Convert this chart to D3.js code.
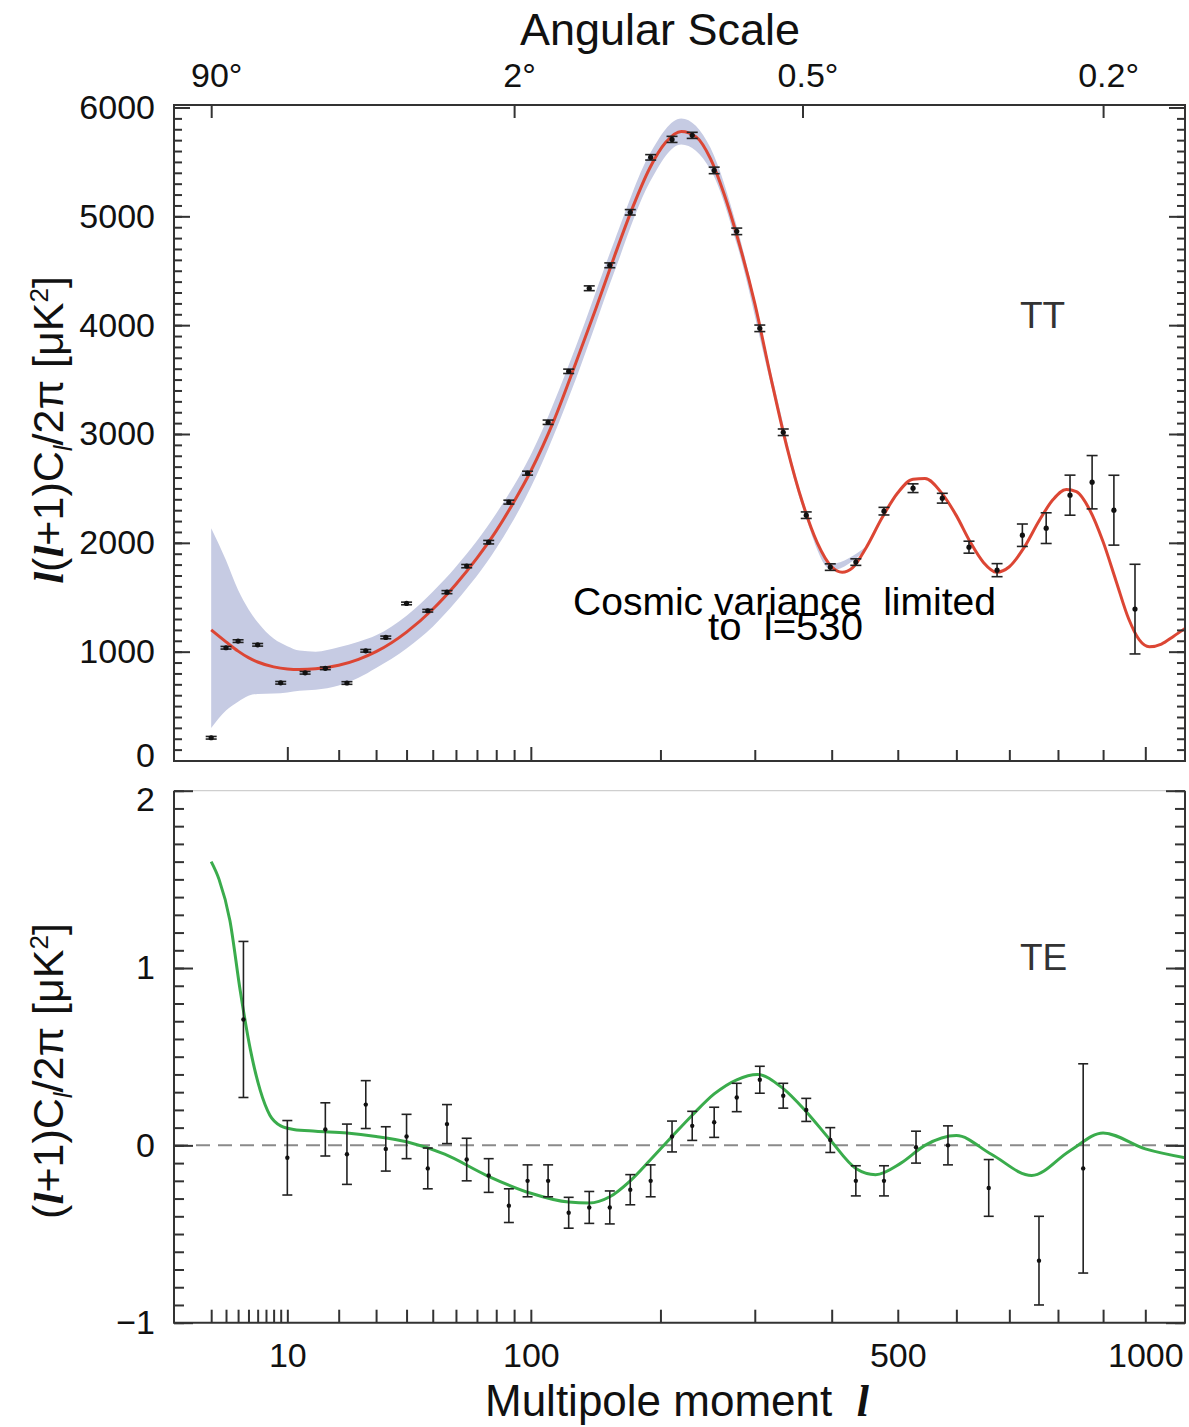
<!DOCTYPE html>
<html>
<head>
<meta charset="utf-8">
<script src="https://cdn.jsdelivr.net/npm/d3@7"></script>
<style>
  body { margin: 0; background: #fff; }
  svg { display: block; }
  text { font-family: "Liberation Sans", Arial, Helvetica, sans-serif; }
</style>
</head>
<body>
<svg id="chart" width="1189" height="1427"></svg>
<script>
// ---- data ----
// TT binned data: multipole, value (uK^2), half error
var ttL   = [2, 3, 4, 6, 9, 13, 17, 22, 27, 33, 40, 48, 56, 65, 76, 87, 98, 111, 125, 140, 156, 173, 191, 211, 231, 254, 279, 306, 335, 365, 398, 435, 478, 525, 575, 623, 676, 726, 775, 826, 875, 925, 975];
var ttVal = [209, 1036, 1097, 1063, 714, 806, 847, 712, 1008, 1131, 1443, 1376, 1547, 1786, 2006, 2374, 2640, 3108, 3576, 4339, 4550, 5037, 5542, 5707, 5744, 5422, 4862, 3971, 3016, 2254, 1777, 1823, 2291, 2502, 2410, 1960, 1749, 2070, 2135, 2438, 2557, 2300, 1391];
var ttErr = [12, 12, 12, 12, 12, 12, 12, 12, 12, 12, 12, 12, 14, 15, 16, 18, 18, 20, 20, 22, 22, 25, 25, 28, 28, 30, 30, 30, 30, 30, 30, 30, 35, 40, 45, 55, 60, 103, 141, 184, 245, 321, 412];

// TT best-fit model (red line)
var ttModelL   = [2, 3, 4, 5, 6, 8, 10, 12, 15, 20, 25, 30, 40, 50, 60, 70, 80, 90, 100, 115, 130, 145, 160, 175, 190, 205, 220, 235, 250, 265, 280, 300, 320, 340, 360, 380, 400, 415, 430, 450, 475, 500, 525, 545, 575, 600, 625, 650, 675, 700, 730, 760, 790, 818, 840, 870, 900, 930, 960, 985, 1010, 1040, 1070, 1100];
var ttModelVal = [1200, 1090, 1005, 945, 905, 860, 840, 835, 842, 875, 930, 1000, 1180, 1390, 1620, 1860, 2110, 2380, 2660, 3130, 3650, 4150, 4640, 5080, 5440, 5680, 5780, 5730, 5530, 5200, 4800, 4200, 3500, 2870, 2370, 2000, 1780, 1730, 1770, 1950, 2230, 2460, 2585, 2590, 2450, 2250, 2010, 1820, 1730, 1780, 1960, 2200, 2400, 2490, 2470, 2300, 2010, 1650, 1300, 1110, 1045, 1070, 1140, 1214];

// cosmic variance band
var bandL  = [2, 3, 4, 5, 6, 8, 10, 12, 15, 20, 25, 30, 40, 50, 60, 80, 100, 130, 160, 190, 220, 250, 280, 320, 360, 400, 450];
var bandLo = [298, 460, 540, 595, 611, 615, 625, 640, 650, 690, 760, 850, 1030, 1230, 1460, 1950, 2510, 3500, 4500, 5310, 5660, 5430, 4720, 3440, 2330, 1750, 1935];
var bandHi = [2135, 1840, 1566, 1390, 1270, 1120, 1050, 1010, 1000, 1040, 1090, 1150, 1330, 1550, 1780, 2270, 2810, 3800, 4780, 5570, 5900, 5630, 4880, 3560, 2410, 1810, 1965];

// TE binned data
var teL   = [4.5, 10, 17, 22, 27, 33, 40, 48, 56, 65, 76, 87, 98, 111, 125, 140, 156, 173, 191, 211, 231, 254, 279, 306, 335, 365, 398, 435, 478, 530, 585, 660, 760, 855];
var teVal = [0.71, -0.07, 0.09, -0.05, 0.23, -0.02, 0.05, -0.13, 0.12, -0.08, -0.17, -0.34, -0.2, -0.2, -0.38, -0.35, -0.35, -0.25, -0.2, 0.05, 0.11, 0.13, 0.27, 0.37, 0.28, 0.2, 0.03, -0.2, -0.2, -0.01, 0.0, -0.24, -0.65, -0.13];
var teErr = [0.44, 0.21, 0.15, 0.17, 0.135, 0.125, 0.125, 0.115, 0.11, 0.12, 0.095, 0.095, 0.09, 0.09, 0.087, 0.09, 0.093, 0.085, 0.09, 0.087, 0.082, 0.085, 0.08, 0.076, 0.07, 0.065, 0.07, 0.085, 0.085, 0.09, 0.11, 0.16, 0.25, 0.59];

// TE model (green line)
var teModelL   = [2, 2.5, 3.3, 4.2, 5.2, 6.3, 7.5, 9, 11, 15, 22, 30, 40, 55, 75, 100, 125, 140, 156, 173, 191, 211, 231, 254, 279, 303, 335, 365, 398, 435, 465, 505, 545, 600, 665, 745, 826, 900, 1000, 1100];
var teModelVal = [1.6, 1.5, 1.27, 0.87, 0.54, 0.31, 0.17, 0.11, 0.09, 0.08, 0.07, 0.05, 0.02, -0.05, -0.17, -0.27, -0.32, -0.325, -0.29, -0.2, -0.08, 0.05, 0.17, 0.29, 0.37, 0.4, 0.32, 0.19, 0.03, -0.13, -0.165, -0.1, 0.0, 0.055, -0.05, -0.17, -0.03, 0.07, -0.02, -0.07];

// axis ticks
var angL = [2, 90, 360, 900];
var angLabels = ["90°", "2°", "0.5°", "0.2°"];
var lTicksLow = [2, 3, 4, 5, 6, 7, 8, 9];
var lTicksMid = [10, 20, 30, 40, 50, 60, 70, 80, 90, 100, 200, 300, 400, 500, 600, 700, 800, 900, 1000];
var lMajor = [10, 100, 1000];
var lLabels = [10, 100, 500, 1000];
var ttMajor = d3.range(0, 6001, 1000);
var ttMinor = d3.range(0, 6001, 100);
var teMajor = [-1, 0, 1, 2];
var teMinor = d3.range(-10, 21).map(i => i / 10);

// ---- layout ----
var svg = d3.select("#chart");
var left = 174, right = 1185;

var x = d3.scalePow().exponent(0.402)
  .domain([0, 1000])
  .range([127.5, 1145.3]);

var yTT = d3.scaleLinear().domain([0, 6000]).range([760.5, 107.5]);
var yTE = d3.scaleLinear().domain([-1, 2]).range([1322.7, 790.7]);

var ttTop = 105, ttBot = 761;
var teTop = yTE(2), teBot = yTE(-1);

var tickCol = "#333";

function styleAxis(g, size) {
  g.select(".domain").remove();
  g.selectAll("line").attr("stroke", tickCol).attr("stroke-width", 2);
  g.selectAll("text").attr("fill", "#111").attr("font-size", size)
    .attr("font-family", "'Liberation Sans', Arial, sans-serif");
}

// ---- TT panel ----
var band = d3.area()
  .x((d, i) => x(bandL[i]))
  .y0((d, i) => yTT(bandLo[i]))
  .y1((d, i) => yTT(bandHi[i]))
  .curve(d3.curveMonotoneX);

svg.append("path")
  .datum(bandL)
  .attr("d", band)
  .attr("fill", "#c6cbe3");

var ttLine = d3.line()
  .x((d, i) => x(ttModelL[i]))
  .y((d, i) => yTT(ttModelVal[i]))
  .curve(d3.curveMonotoneX);

svg.append("path")
  .datum(ttModelL)
  .attr("d", ttLine)
  .attr("fill", "none")
  .attr("stroke", "#dc4634")
  .attr("stroke-width", 3);

function drawPoints(ls, vals, errs, y, capW, r) {
  var g = svg.append("g").attr("stroke", "#222").attr("stroke-width", 1.6);
  ls.forEach(function(l, i) {
    var cx = x(l), lo = y(vals[i] - errs[i]), hi = y(vals[i] + errs[i]);
    g.append("line").attr("x1", cx).attr("x2", cx).attr("y1", lo).attr("y2", hi);
    g.append("line").attr("x1", cx - capW / 2).attr("x2", cx + capW / 2).attr("y1", lo).attr("y2", lo);
    g.append("line").attr("x1", cx - capW / 2).attr("x2", cx + capW / 2).attr("y1", hi).attr("y2", hi);
    g.append("circle").attr("cx", cx).attr("cy", y(vals[i])).attr("r", r)
      .attr("fill", "#111").attr("stroke", "none");
  });
}

drawPoints(ttL, ttVal, ttErr, yTT, 11, 2.6);

// TT frame
svg.append("rect")
  .attr("x", left).attr("y", ttTop)
  .attr("width", right - left).attr("height", ttBot - ttTop)
  .attr("fill", "none").attr("stroke", tickCol).attr("stroke-width", 2);

// left axis, minor + major (ticks point inside)
svg.append("g").attr("transform", "translate(" + left + ",0)")
  .call(d3.axisLeft(yTT).tickValues(ttMinor).tickSize(-8).tickFormat(""))
  .call(g => styleAxis(g, 34));
svg.append("g").attr("transform", "translate(" + left + ",0)")
  .call(d3.axisLeft(yTT).tickValues(ttMajor).tickSize(-16).tickPadding(19).tickFormat(d3.format("d")))
  .call(g => styleAxis(g, 34))
  .call(g => g.selectAll(".tick text").filter(d => d === 0).attr("y", -5));
// right axis
svg.append("g").attr("transform", "translate(" + right + ",0)")
  .call(d3.axisRight(yTT).tickValues(ttMinor).tickSize(-8).tickFormat(""))
  .call(g => styleAxis(g, 34));
svg.append("g").attr("transform", "translate(" + right + ",0)")
  .call(d3.axisRight(yTT).tickValues(ttMajor).tickSize(-16).tickFormat(""))
  .call(g => styleAxis(g, 34));
// bottom of TT panel
svg.append("g").attr("transform", "translate(0," + ttBot + ")")
  .call(d3.axisBottom(x).tickValues(lTicksMid.filter(d => lMajor.indexOf(d) < 0)).tickSize(-11).tickFormat(""))
  .call(g => styleAxis(g, 34));
svg.append("g").attr("transform", "translate(0," + ttBot + ")")
  .call(d3.axisBottom(x).tickValues(lMajor).tickSize(-14).tickFormat(""))
  .call(g => styleAxis(g, 34));
// top angular axis
svg.append("g").attr("transform", "translate(0," + ttTop + ")")
  .call(d3.axisTop(x).tickValues(angL).tickSize(-13).tickPadding(18).tickFormat((d, i) => angLabels[i]))
  .call(g => styleAxis(g, 34))
  .call(g => g.selectAll(".tick text").attr("dx", 5));

// ---- TE panel ----
svg.append("line")
  .attr("x1", left).attr("x2", right)
  .attr("y1", yTE(0)).attr("y2", yTE(0))
  .attr("stroke", "#8a8a8a").attr("stroke-width", 2)
  .attr("stroke-dasharray", "14,8");

var teLine = d3.line()
  .x((d, i) => x(teModelL[i]))
  .y((d, i) => yTE(teModelVal[i]))
  .curve(d3.curveMonotoneX);

svg.append("path")
  .datum(teModelL)
  .attr("d", teLine)
  .attr("fill", "none")
  .attr("stroke", "#3aac4c")
  .attr("stroke-width", 3);

drawPoints(teL, teVal, teErr, yTE, 10, 2.2);

// TE frame: light top edge, dark others
svg.append("line").attr("x1", left).attr("x2", right).attr("y1", teTop).attr("y2", teTop)
  .attr("stroke", "#cfcfcf").attr("stroke-width", 1.2);
svg.append("path")
  .attr("d", "M" + left + "," + teTop + "V" + teBot + "H" + right + "V" + teTop)
  .attr("fill", "none").attr("stroke", tickCol).attr("stroke-width", 2);

svg.append("g").attr("transform", "translate(" + left + ",0)")
  .call(d3.axisLeft(yTE).tickValues(teMinor).tickSize(-10).tickFormat(""))
  .call(g => styleAxis(g, 34));
svg.append("g").attr("transform", "translate(" + left + ",0)")
  .call(d3.axisLeft(yTE).tickValues(teMajor).tickSize(-19).tickPadding(19).tickFormat(d3.format("d")))
  .call(g => styleAxis(g, 34))
  .call(g => g.selectAll(".tick text").filter(d => d === 2).attr("y", 9));
svg.append("g").attr("transform", "translate(" + right + ",0)")
  .call(d3.axisRight(yTE).tickValues(teMinor).tickSize(-10).tickFormat(""))
  .call(g => styleAxis(g, 34));
svg.append("g").attr("transform", "translate(" + right + ",0)")
  .call(d3.axisRight(yTE).tickValues(teMajor).tickSize(-19).tickFormat(""))
  .call(g => styleAxis(g, 34));
svg.append("g").attr("transform", "translate(0," + teBot + ")")
  .call(d3.axisBottom(x).tickValues(lTicksLow.concat(lTicksMid)).tickSize(-13).tickPadding(20)
    .tickFormat(d => lLabels.indexOf(d) >= 0 ? d : ""))
  .call(g => styleAxis(g, 34));

// ---- titles and annotations ----
svg.append("text")
  .attr("x", 660).attr("y", 45)
  .attr("text-anchor", "middle")
  .attr("font-size", 45).attr("fill", "#111")
  .text("Angular Scale");

var xt = svg.append("text")
  .attr("x", 485).attr("y", 1416)
  .attr("font-size", 44).attr("fill", "#111")
  .style("white-space", "pre");
xt.append("tspan").text("Multipole moment  ");
xt.append("tspan").attr("font-family", "'Liberation Serif', serif")
  .attr("font-style", "italic").attr("font-weight", "bold").text("l");

function yTitle(cx, cy, leadL) {
  var t = svg.append("text")
    .attr("transform", "translate(" + cx + "," + cy + ") rotate(-90)")
    .attr("text-anchor", "middle")
    .attr("font-size", 43).attr("fill", "#111");
  var ell = s => t.append("tspan").attr("font-family", "'Liberation Serif', serif")
    .attr("font-style", "italic").attr("font-weight", "bold").text(s);
  if (leadL) ell("l");
  t.append("tspan").text("(");
  ell("l");
  t.append("tspan").text("+1)C");
  t.append("tspan").attr("font-size", 26).attr("font-style", "italic").attr("dy", 9).text("l");
  t.append("tspan").attr("dy", -9).text("/2π [μK");
  t.append("tspan").attr("font-size", 26).attr("dy", -15).text("2");
  t.append("tspan").attr("dy", 15).text("]");
}
yTitle(63, 430, true);
yTitle(63, 1071, false);

svg.append("text")
  .attr("x", 1020).attr("y", 328)
  .attr("font-family", "Lato, 'Open Sans', sans-serif")
  .attr("font-size", 37).attr("fill", "#333")
  .text("TT");
svg.append("text")
  .attr("x", 1020).attr("y", 970)
  .attr("font-family", "Lato, 'Open Sans', sans-serif")
  .attr("font-size", 37).attr("fill", "#333")
  .text("TE");

svg.append("text")
  .attr("x", 573).attr("y", 615)
  .attr("font-family", "Lato, 'Open Sans', sans-serif")
  .attr("font-size", 39).attr("fill", "#000")
  .attr("textLength", 423).attr("lengthAdjust", "spacingAndGlyphs")
  .style("white-space", "pre")
  .text("Cosmic variance  limited");
svg.append("text")
  .attr("x", 708).attr("y", 640)
  .attr("font-family", "Lato, 'Open Sans', sans-serif")
  .attr("font-size", 39).attr("fill", "#000")
  .attr("textLength", 155).attr("lengthAdjust", "spacingAndGlyphs")
  .style("white-space", "pre")
  .text("to  l=530");
</script>
</body>
</html>
